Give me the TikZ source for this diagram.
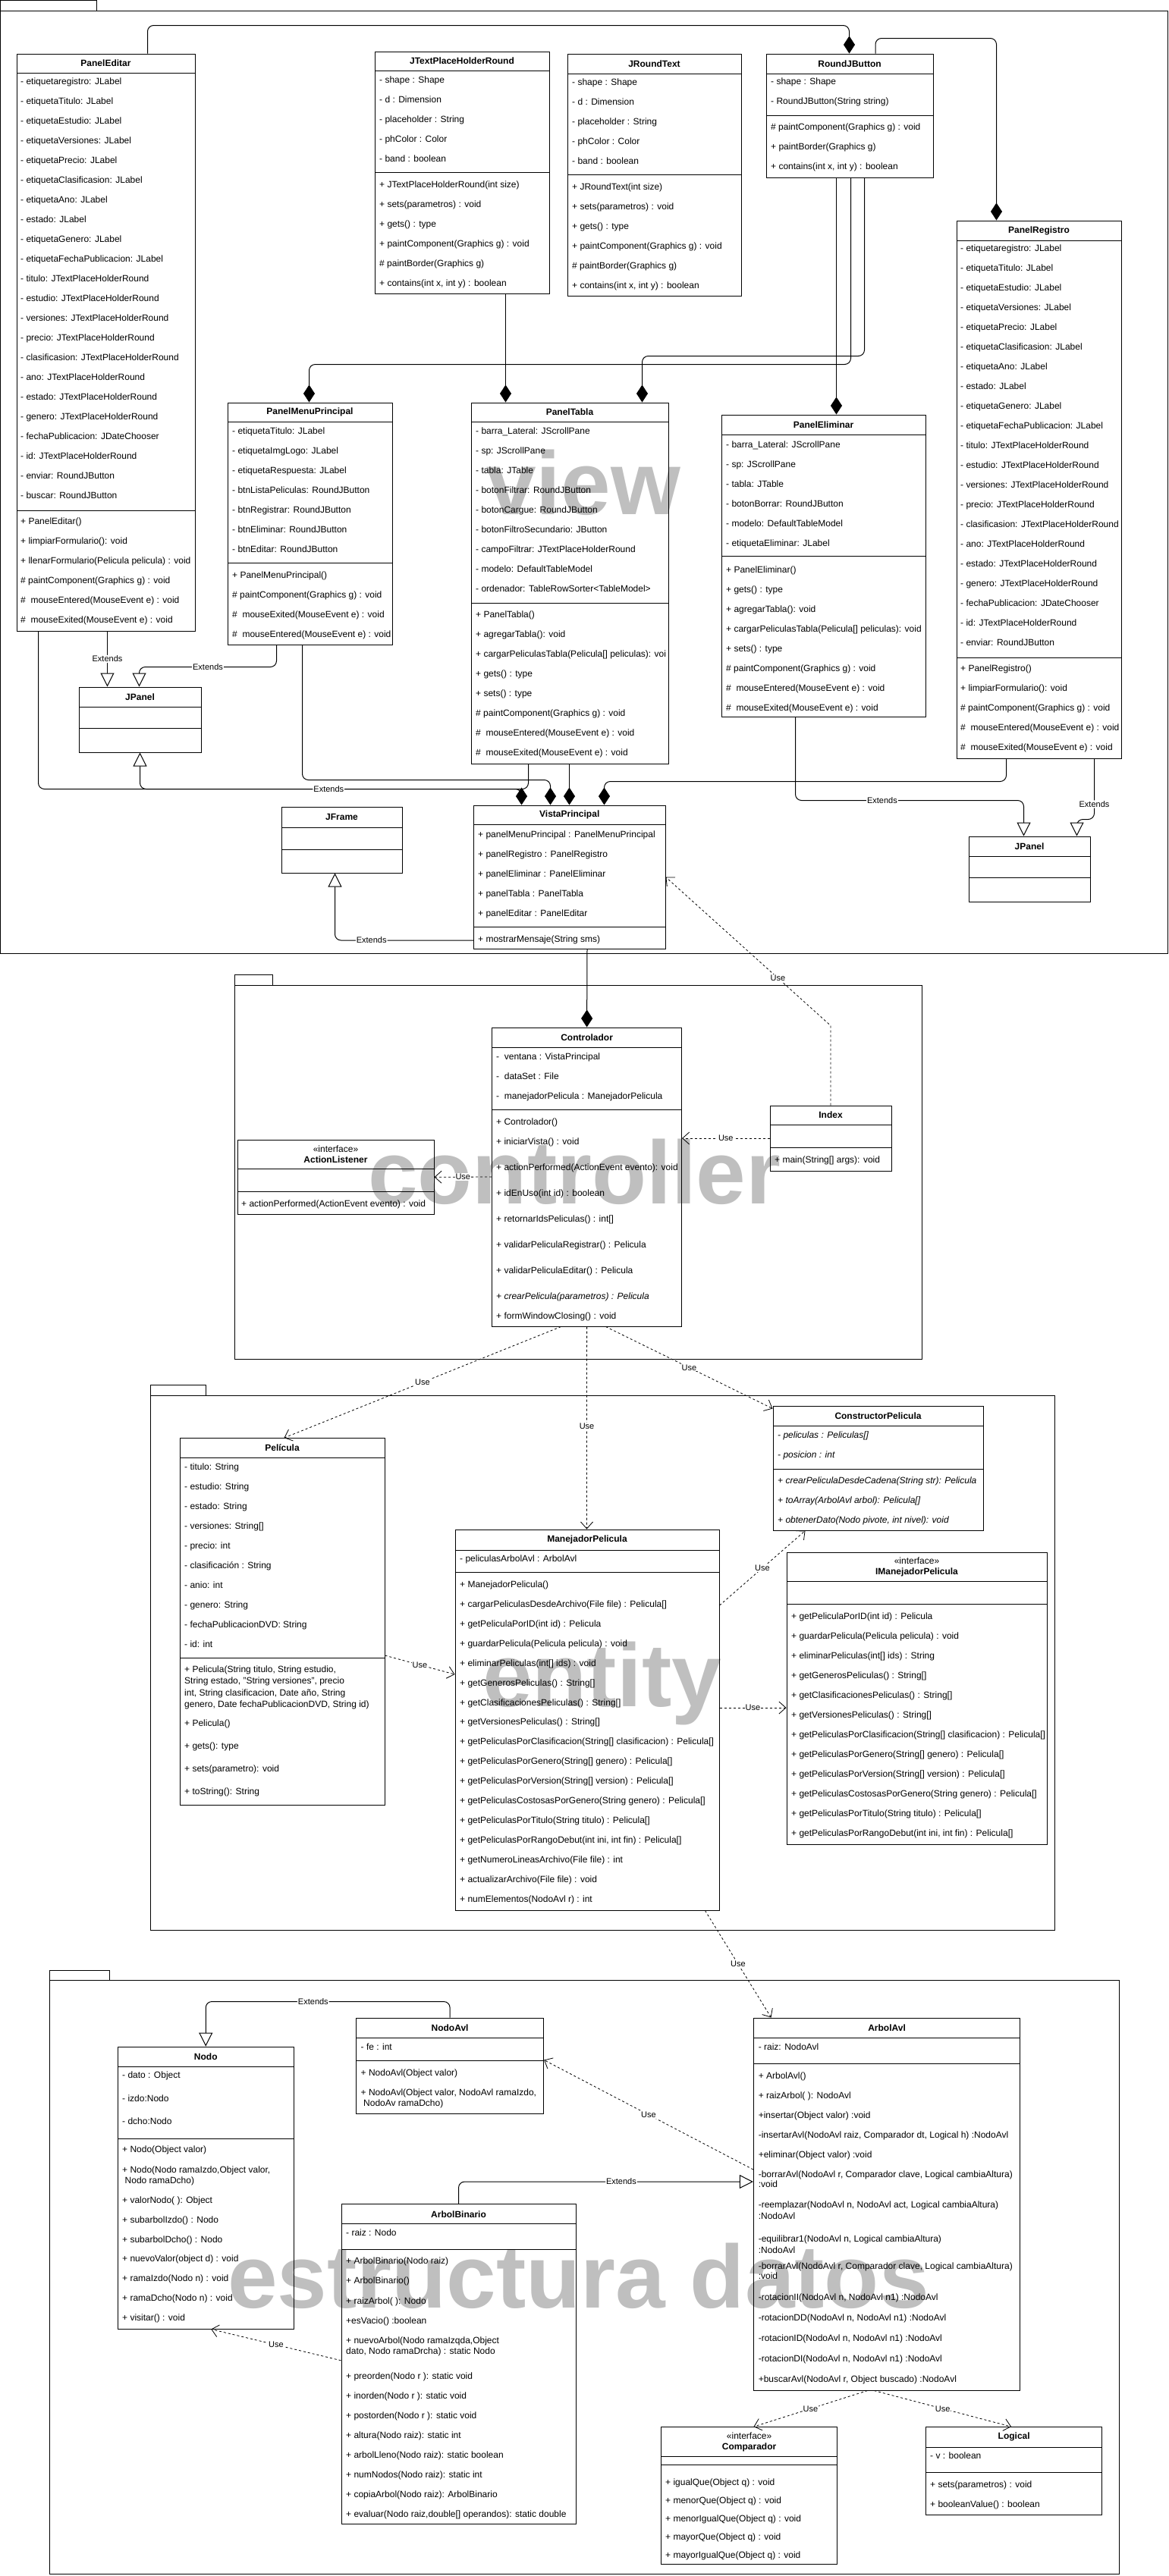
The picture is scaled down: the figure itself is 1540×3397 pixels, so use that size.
\documentclass[tikz,border=0pt]{standalone}
\usepackage{fontspec}
\setmainfont{Liberation Sans}
\usetikzlibrary{positioning,arrows.meta,calc,fit}
\definecolor{markgray}{RGB}{191,191,191}
\tikzset{
	every node/.style={font=\fontsize{12}{14}\selectfont, inner sep=0},
	box/.style={draw, line width=1pt},
	pkg/.style={draw, line width=1pt},
	ttl/.style={font=\fontsize{12}{14}\selectfont\bfseries, align=center},
	row/.style={anchor=mid west},
	wmark/.style={anchor=base west, text=markgray, font=\fontsize{118}{118}\selectfont\bfseries},
	wire/.style={line width=1pt, rounded corners=8pt},
	comp/.style={wire, -{Diamond[length=23pt,width=15pt]}},
	ext/.style={wire, -{Triangle[length=18pt,width=18pt,fill=white]}},
	use/.style={line width=0.8pt, dash pattern=on 3pt off 3pt, -{Straight Barb[length=9pt,width=16pt]}},
	lbl/.style={fill=white, inner sep=1pt, font=\fontsize{11}{13}\selectfont}
}
% class box: name, x1, y1, x2, y2, title rule, member rule, title
\newcommand\klass[8]{%
	\node[box, fit={(#2,#3) (#4,#5)}] (#1) {};
	\node[ttl] (#1-title) at ({(#2+#4)/2},{(#3+#6)/2}) {#8};
	\draw[line width=1pt] (#2,#6) -- (#4,#6) (#2,#7) -- (#4,#7);
}
% text rows: prefix, x, first y, step, list
\newcommand\rows[5]{%
	\foreach \t [count=\i from 0] in {#5}
		\node[row] (#1-\i) at (#2,{#3+\i*#4}) {\t};
}
\begin{document}
\begin{tikzpicture}[x=1pt, y=-1pt]
	\useasboundingbox (0,0) rectangle (1540,3397);
	% watermarks
	\node[wmark] (viewmark) at (641,678) {view};
	\node[wmark] (ctrlmark) at (485,1587) {controller};
	\node[wmark] (entmark) at (636,2250) {entity};
	\node[wmark] (datamark) at (300,3043) {estructura datos};
	
	% ---------- view ----------
	\node[pkg, fit={(0.5,0.5) (127,14)}] (viewtab) {};
	\node[pkg, fit={(0.5,14) (1539.5,1257)}] (viewpkg) {};
	
	\klass{editar}{22}{71}{257}{832}{96}{673}{PanelEditar}
	\rows{editar-a}{27}{109}{26}{{- etiquetaregistro: JLabel},{- etiquetaTitulo: JLabel},{- etiquetaEstudio: JLabel},{- etiquetaVersiones: JLabel},{- etiquetaPrecio: JLabel},{- etiquetaClasificasion: JLabel},{- etiquetaAno: JLabel},{- estado: JLabel},{- etiquetaGenero: JLabel},{- etiquetaFechaPublicacion: JLabel},{- titulo: JTextPlaceHolderRound},{- estudio: JTextPlaceHolderRound},{- versiones: JTextPlaceHolderRound},{- precio: JTextPlaceHolderRound},{- clasificasion: JTextPlaceHolderRound},{- ano: JTextPlaceHolderRound},{- estado: JTextPlaceHolderRound},{- genero: JTextPlaceHolderRound},{- fechaPublicacion: JDateChooser},{- id: JTextPlaceHolderRound},{- enviar: RoundJButton},{- buscar: RoundJButton}}
	\rows{editar-m}{27}{689}{26}{{+ PanelEditar()},{+ limpiarFormulario(): void},{+ llenarFormulario(Pelicula pelicula) : void},{\# paintComponent(Graphics g) : void},{\#~~mouseEntered(MouseEvent e) : void},{\#~~mouseExited(MouseEvent e) : void}}
	
	\klass{placeholder}{494}{68}{724}{387}{93}{227}{JTextPlaceHolderRound}
	\rows{placeholder-a}{500}{107}{26}{{- shape : Shape},{- d : Dimension},{- placeholder : String},{- phColor : Color},{- band : boolean}}
	\rows{placeholder-m}{500}{245}{26}{{+ JTextPlaceHolderRound(int size)},{+ sets(parametros) : void},{+ gets() : type},{+ paintComponent(Graphics g) : void},{\# paintBorder(Graphics g)},{+ contains(int x, int y) : boolean}}
	
	\klass{roundtext}{748}{71}{977}{390}{97}{230}{JRoundText}
	\rows{roundtext-a}{754}{110}{26}{{- shape : Shape},{- d : Dimension},{- placeholder : String},{- phColor : Color},{- band : boolean}}
	\rows{roundtext-m}{754}{248}{26}{{+ JRoundText(int size)},{+ sets(parametros) : void},{+ gets() : type},{+ paintComponent(Graphics g) : void},{\# paintBorder(Graphics g)},{+ contains(int x, int y) : boolean}}
	
	\klass{button}{1010}{71}{1230}{234}{97}{152}{RoundJButton}
	\rows{button-a}{1016}{109}{26}{{- shape : Shape},{- RoundJButton(String string)}}
	\rows{button-m}{1016}{169}{26}{{\# paintComponent(Graphics g) : void},{+ paintBorder(Graphics g)},{+ contains(int x, int y) : boolean}}
	
	\klass{registro}{1261}{291}{1478}{1000}{317}{867}{PanelRegistro}
	\rows{registro-a}{1266}{329}{26}{{- etiquetaregistro: JLabel},{- etiquetaTitulo: JLabel},{- etiquetaEstudio: JLabel},{- etiquetaVersiones: JLabel},{- etiquetaPrecio: JLabel},{- etiquetaClasificasion: JLabel},{- etiquetaAno: JLabel},{- estado: JLabel},{- etiquetaGenero: JLabel},{- etiquetaFechaPublicacion: JLabel},{- titulo: JTextPlaceHolderRound},{- estudio: JTextPlaceHolderRound},{- versiones: JTextPlaceHolderRound},{- precio: JTextPlaceHolderRound},{- clasificasion: JTextPlaceHolderRound},{- ano: JTextPlaceHolderRound},{- estado: JTextPlaceHolderRound},{- genero: JTextPlaceHolderRound},{- fechaPublicacion: JDateChooser},{- id: JTextPlaceHolderRound},{- enviar: RoundJButton}}
	\rows{registro-m}{1266}{883}{26}{{+ PanelRegistro()},{+ limpiarFormulario(): void},{\# paintComponent(Graphics g) : void},{\#~~mouseEntered(MouseEvent e) : void},{\#~~mouseExited(MouseEvent e) : void}}
	
	\klass{menu}{300}{531}{517}{850}{556}{742}{PanelMenuPrincipal}
	\rows{menu-a}{306}{569.5}{26}{{- etiquetaTitulo: JLabel},{- etiquetaImgLogo: JLabel},{- etiquetaRespuesta: JLabel},{- btnListaPeliculas: RoundJButton},{- btnRegistrar: RoundJButton},{- btnEliminar: RoundJButton},{- btnEditar: RoundJButton}}
	\rows{menu-m}{306}{759.5}{26}{{+ PanelMenuPrincipal()},{\# paintComponent(Graphics g) : void},{\#~~mouseExited(MouseEvent e) : void},{\#~~mouseEntered(MouseEvent e) : void}}
	
	\klass{tabla}{621}{531}{881}{1007}{556}{795}{PanelTabla}
	\rows{tabla-a}{627}{570}{26}{{- barra\_Lateral: JScrollPane},{- sp: JScrollPane},{- tabla: JTable},{- botonFiltrar: RoundJButton},{- botonCargue: RoundJButton},{- botonFiltroSecundario: JButton},{- campoFiltrar: JTextPlaceHolderRound},{- modelo: DefaultTableModel},{- ordenador: TableRowSorter<TableModel>}}
	\rows{tabla-m}{627}{812}{26}{{+ PanelTabla()},{+ agregarTabla(): void},{+ cargarPeliculasTabla(Pelicula[] peliculas): voi},{+ gets() : type},{+ sets() : type},{\# paintComponent(Graphics g) : void},{\#~~mouseEntered(MouseEvent e) : void},{\#~~mouseExited(MouseEvent e) : void}}
	
	\klass{eliminar}{951}{547}{1220}{945}{573}{733}{PanelEliminar}
	\rows{eliminar-a}{957}{588}{26}{{- barra\_Lateral: JScrollPane},{- sp: JScrollPane},{- tabla: JTable},{- botonBorrar: RoundJButton},{- modelo: DefaultTableModel},{- etiquetaEliminar: JLabel}}
	\rows{eliminar-m}{957}{753}{26}{{+ PanelEliminar()},{+ gets() : type},{+ agregarTabla(): void},{+ cargarPeliculasTabla(Pelicula[] peliculas): void},{+ sets() : type},{\# paintComponent(Graphics g) : void},{\#~~mouseEntered(MouseEvent e) : void},{\#~~mouseExited(MouseEvent e) : void}}
	
	\klass{jpanel}{104}{906}{265}{992}{932}{960}{JPanel}
	\klass{jpanelr}{1277}{1103}{1437}{1189}{1129}{1157}{JPanel}
	\klass{jframe}{371}{1064}{530}{1151}{1091}{1120}{JFrame}
	\klass{vista}{624.5}{1062}{877}{1251}{1087}{1222}{VistaPrincipal}
	\rows{vista-a}{630}{1102}{26}{{+ panelMenuPrincipal : PanelMenuPrincipal},{+ panelRegistro : PanelRegistro},{+ panelEliminar : PanelEliminar},{+ panelTabla : PanelTabla},{+ panelEditar : PanelEditar}}
	\node[row] (vista-m) at (630,1240) {+ mostrarMensaje(String sms)};
	
	% ---------- controller ----------
	\node[pkg, fit={(309,1285) (359,1299)}] (ctrltab) {};
	\node[pkg, fit={(309,1299) (1215,1792)}] (ctrlpkg) {};
	
	\klass{controlador}{648.6}{1355}{898.6}{1749}{1381}{1463.5}{Controlador}
	\rows{controlador-a}{654}{1395}{26}{{-~~ventana : VistaPrincipal},{-~~dataSet : File},{-~~manejadorPelicula : ManejadorPelicula}}
	\rows{controlador-m}{654}{1481}{26}{{+ Controlador()},{+ iniciarVista() : void}}
	\rows{controlador-n}{654}{1541}{34}{{+ actionPerformed(ActionEvent evento): void},{+ idEnUso(int id) : boolean},{+ retornarIdsPeliculas() : int[]},{+ validarPeliculaRegistrar() : Pelicula},{+ validarPeliculaEditar() : Pelicula},{\itshape + crearPelicula(parametros) : Pelicula}}
	\node[row] (controlador-z) at (654,1737) {+ formWindowClosing() : void};
	
	\klass{index}{1015}{1458}{1175}{1544}{1483}{1513.5}{Index}
	\node[row] (index-m) at (1021,1531) {+ main(String[] args): void};
	
	\klass{listener}{313}{1503.5}{572}{1601}{1541}{1571}{{\mdseries «interface»}\\ActionListener}
	\node[row] (listener-m) at (318,1588.5) {+ actionPerformed(ActionEvent evento) : void};
	
	% ---------- entity ----------
	\node[pkg, fit={(198,1826) (271,1840)}] (enttab) {};
	\node[pkg, fit={(198,1840) (1390,2545)}] (entpkg) {};
	
	\klass{pelicula}{237}{1896.6}{507}{2380.5}{1922.5}{2186}{Película}
	\rows{pelicula-a}{243}{1936}{26}{{- titulo: String},{- estudio: String},{- estado: String},{- versiones: String[]},{- precio: int},{- clasificación : String},{- anio: int},{- genero: String},{- fechaPublicacionDVD: String},{- id: int}}
	\rows{pelicula-c}{243}{2203}{15.3}{{+ Pelicula(String titulo, String estudio,},{String estado, "String versiones", precio},{int, String clasificacion, Date año, String},{genero, Date fechaPublicacionDVD, String id)}}
	\rows{pelicula-m}{243}{2274}{30}{{+ Pelicula()},{+ gets(): type},{+ sets(parametro): void},{+ toString(): String}}
	
	\klass{manejador}{600}{2017}{948}{2519}{2044}{2073}{ManejadorPelicula}
	\node[row] (manejador-a) at (606,2057) {- peliculasArbolAvl : ArbolAvl};
	\rows{manejador-m}{606}{2091}{25.9}{{+ ManejadorPelicula()},{+ cargarPeliculasDesdeArchivo(File file) : Pelicula[]},{+ getPeliculaPorID(int id) : Pelicula},{+ guardarPelicula(Pelicula pelicula) : void},{+ eliminarPeliculas(int[] ids) : void},{+ getGenerosPeliculas() : String[]},{+ getClasificacionesPeliculas() : String[]},{+ getVersionesPeliculas() : String[]},{+ getPeliculasPorClasificacion(String[] clasificacion) : Pelicula[]},{+ getPeliculasPorGenero(String[] genero) : Pelicula[]},{+ getPeliculasPorVersion(String[] version) : Pelicula[]},{+ getPeliculasCostosasPorGenero(String genero) : Pelicula[]},{+ getPeliculasPorTitulo(String titulo) : Pelicula[]},{+ getPeliculasPorRangoDebut(int ini, int fin) : Pelicula[]},{+ getNumeroLineasArchivo(File file) : int},{+ actualizarArchivo(File file) : void},{+ numElementos(NodoAvl r) : int}}
	
	\klass{constructor}{1019}{1854}{1296}{2018}{1880.5}{1937}{ConstructorPelicula}
	\rows{constructor-a}{1025}{1894}{25.5}{{\itshape - peliculas : Peliculas[]},{\itshape - posicion : int}}
	\rows{constructor-m}{1025}{1954}{26}{{\itshape + crearPeliculaDesdeCadena(String str): Pelicula},{\itshape + toArray(ArbolAvl arbol): Pelicula[]},{\itshape + obtenerDato(Nodo pivote, int nivel): void}}
	
	\klass{imanejador}{1037}{2047.7}{1380}{2432}{2085}{2115.5}{{\mdseries «interface»}\\IManejadorPelicula}
	\rows{imanejador-m}{1043}{2133}{26}{{+ getPeliculaPorID(int id) : Pelicula},{+ guardarPelicula(Pelicula pelicula) : void},{+ eliminarPeliculas(int[] ids) : String},{+ getGenerosPeliculas() : String[]},{+ getClasificacionesPeliculas() : String[]},{+ getVersionesPeliculas() : String[]},{+ getPeliculasPorClasificacion(String[] clasificacion) : Pelicula[]},{+ getPeliculasPorGenero(String[] genero) : Pelicula[]},{+ getPeliculasPorVersion(String[] version) : Pelicula[]},{+ getPeliculasCostosasPorGenero(String genero) : Pelicula[]},{+ getPeliculasPorTitulo(String titulo) : Pelicula[]},{+ getPeliculasPorRangoDebut(int ini, int fin) : Pelicula[]}}
	
	% ---------- estructura datos ----------
	\node[pkg, fit={(65,2598) (144,2611)}] (esttab) {};
	\node[pkg, fit={(65,2611) (1475,3394)}] (estpkg) {};
	
	\klass{nodo}{155.5}{2699}{387}{3071}{2725}{2820}{Nodo}
	\rows{nodo-a}{161}{2738}{30.5}{{- dato : Object},{- izdo:Nodo},{- dcho:Nodo}}
	\rows{nodo-m}{161}{2836}{26.5}{{+ Nodo(Object valor)},{+ Nodo(Nodo ramaIzdo,Object valor,}}
	\node[row] (nodo-w) at (161,2877) {\hspace{3.5pt}Nodo ramaDcho)};
	\rows{nodo-n}{161}{2902.6}{25.9}{{+ valorNodo( ): Object},{+ subarbolIzdo() : Nodo},{+ subarbolDcho() : Nodo},{+ nuevoValor(object d) : void},{+ ramaIzdo(Nodo n) : void},{+ ramaDcho(Nodo n) : void},{+ visitar() : void}}
	
	\klass{nodoavl}{469.6}{2661}{716.6}{2787}{2687}{2717.6}{NodoAvl}
	\node[row] (nodoavl-a) at (475.5,2701) {- fe : int};
	\rows{nodoavl-m}{475.5}{2734.8}{26.2}{{+ NodoAvl(Object valor)},{+ NodoAvl(Object valor, NodoAvl ramaIzdo,}}
	\node[row] (nodoavl-w) at (475.5,2774.4) {\hspace{3.5pt}NodoAv ramaDcho)};
	
	\klass{arbolbin}{450}{2906.7}{759}{3328.8}{2932.8}{2966.7}{ArbolBinario}
	\node[row] (arbolbin-a) at (456,2945.8) {- raiz : Nodo};
	\rows{arbolbin-m}{456}{2983}{26.2}{{+ ArbolBinario(Nodo raiz)},{+ ArbolBinario()},{+ raizArbol( ): Nodo},{+esVacio() :boolean}}
	\rows{arbolbin-w}{456}{3088}{13.6}{{+ nuevoArbol(Nodo ramaIzqda,Object},{dato, Nodo ramaDrcha) : static Nodo}}
	\rows{arbolbin-n}{456}{3134.5}{26.04}{{+ preorden(Nodo r ): static void},{+ inorden(Nodo r ): static void},{+ postorden(Nodo r ): static void},{+ altura(Nodo raiz): static int},{+ arbolLleno(Nodo raiz): static boolean},{+ numNodos(Nodo raiz): static int},{+ copiaArbol(Nodo raiz): ArbolBinario},{+ evaluar(Nodo raiz,double[] operandos): static double}}
	
	\klass{arbolavl}{993.4}{2661}{1344.7}{3152}{2687}{2721.7}{ArbolAvl}
	\node[row] (arbolavl-a) at (999.6,2701) {- raiz: NodoAvl};
	\rows{arbolavl-m}{999.6}{2738.4}{26.05}{{+ ArbolAvl()},{+ raizArbol( ): NodoAvl},{+insertar(Object valor) :void},{-insertarAvl(NodoAvl raiz, Comparador dt, Logical h) :NodoAvl},{+eliminar(Object valor) :void}}
	\rows{arbolavl-b}{999.6}{2868.7}{13.5}{{-borrarAvl(NodoAvl r, Comparador clave, Logical cambiaAltura)},{:void}}
	\rows{arbolavl-r}{999.6}{2909.3}{14.5}{{-reemplazar(NodoAvl n, NodoAvl act, Logical cambiaAltura)},{:NodoAvl}}
	\rows{arbolavl-e}{999.6}{2954}{14.5}{{-equilibrar1(NodoAvl n, Logical cambiaAltura)},{:NodoAvl}}
	\rows{arbolavl-c}{999.6}{2989.6}{13.5}{{-borrarAvl(NodoAvl r, Comparador clave, Logical cambiaAltura)},{:void}}
	\rows{arbolavl-n}{999.6}{3030.8}{26.95}{{-rotacionII(NodoAvl n, NodoAvl n1) :NodoAvl},{-rotacionDD(NodoAvl n, NodoAvl n1) :NodoAvl},{-rotacionID(NodoAvl n, NodoAvl n1) :NodoAvl},{-rotacionDI(NodoAvl n, NodoAvl n1) :NodoAvl},{+buscarAvl(NodoAvl r, Object buscado) :NodoAvl}}
	
	\klass{comparador}{871.5}{3200.6}{1103.7}{3381}{3239.7}{3250.7}{{\mdseries «interface»}\\Comparador}
	\rows{comparador-m}{877}{3274.6}{24}{{+ igualQue(Object q) : void},{+ menorQue(Object q) : void},{+ menorIgualQue(Object q) : void},{+ mayorQue(Object q) : void},{+ mayorIgualQue(Object q) : void}}
	
	\klass{logical}{1220.6}{3200.6}{1452.8}{3316.3}{3227}{3260.6}{Logical}
	\node[row] (logical-a) at (1226,3239.7) {- v : boolean};
	\rows{logical-m}{1226}{3277.8}{26}{{+ sets(parametros) : void},{+ booleanValue() : boolean}}
	
	% ---------- connectors: view ----------
	\draw[comp] ([xshift=173]editar.north west) -- ++(0,-37) -| ([xshift=110]button.north west);
	\draw[comp] ([xshift=144.5]button.north west) -- ++(0,-20) -| ([xshift=53]registro.north west);
	\draw[comp] ([xshift=173]placeholder.south west) -- ([xshift=46]tabla.north west);
	\draw[comp] ([xshift=93]button.south west) -- ([xshift=152]eliminar.north west);
	\draw[comp] ([xshift=112]button.south west) -- ++(0,246) -| ([xshift=108]menu.north west);
	\draw[comp] ([xshift=130]button.south west) -- ++(0,235) -| ([xshift=226]tabla.north west);
	\draw[ext] ([xshift=120]editar.south west) -- node[lbl]{Extends} ([xshift=38]jpanel.north west);
	\draw[ext] ([xshift=65]menu.south west) -- ++(0,29) -| node[lbl, pos=0.25]{Extends} ([xshift=80]jpanel.north west);
	\draw[comp] ([xshift=29]editar.south west) -- ++(0,208) -| ([xshift=63.5]vista.north west);
	\draw[ext] ([xshift=76]tabla.south west) -- ++(0,33) -| node[lbl, pos=0.257]{Extends} ([xshift=81]jpanel.south west);
	\draw[comp] ([xshift=99]menu.south west) -- ++(0,178) -| ([xshift=101.5]vista.north west);
	\draw[comp] ([xshift=130]tabla.south west) -- ([xshift=126.5]vista.north west);
	\draw[comp] ([xshift=66]registro.south west) -- ++(0,30) -| ([xshift=172.5]vista.north west);
	\draw[ext] ([xshift=98]eliminar.south west) -- ++(0,110) -| node[lbl, pos=0.19]{Extends} ([xshift=73]jpanelr.north west);
	\draw[ext] ([xshift=182]registro.south west) -- node[lbl, pos=0.75]{Extends} ++(0,80) -| ([xshift=143]jpanelr.north west);
	\draw[ext] ([yshift=-83.5]vista.west) -| node[lbl, pos=0.368]{Extends} ([xshift=71]jframe.south west);
	\draw[comp] ([xshift=150]vista.south west) -- (controlador.north);
	
	% ---------- connectors: controller ----------
	\draw[use] (index.north) -- ++(0,-105) -- node[lbl, pos=0.32]{Use} (vista.east);
	\draw[use] (index.west) -- node[lbl]{Use} (controlador.east |- index.west);
	\draw[use] (controlador.west) -- node[lbl]{Use} (listener.east);
	
	% ---------- connectors: entity ----------
	\draw[use] ([xshift=91.4]controlador.south west) -- node[lbl]{Use} ([xshift=138]pelicula.north west);
	\draw[use] (controlador.south) -- node[lbl, pos=0.49]{Use} ([xshift=174]manejador.north west);
	\draw[use] ([xshift=150.4]controlador.south west) -- node[lbl]{Use} ([yshift=-4]constructor.north west);
	\draw[use] ([yshift=-44.5]pelicula.east) -- node[lbl]{Use} ([yshift=60]manejador.west);
	\coordinate (mright) at ([yshift=16]manejador.east);
	\draw[use] (mright) -- node[lbl]{Use} (imanejador.west |- mright);
	\draw[use] ([yshift=151]manejador.east) -- node[lbl]{Use} ([xshift=43]constructor.south west);
	\draw[use] ([xshift=330]manejador.south west) -- node[lbl]{Use} ([xshift=23.6]arbolavl.north west);
	
	% ---------- connectors: estructura datos ----------
	\draw[ext] (nodoavl.north) -- ++(0,-21) -| node[lbl, pos=0.28]{Extends} (nodo.north);
	\draw[use] ([yshift=5]arbolbin.west) -- node[lbl]{Use} ([xshift=7]nodo.south);
	\draw[ext] (arbolbin.north) |- node[lbl, pos=0.776]{Extends} ([yshift=29.5]arbolavl.west);
	\draw[use] ([yshift=45.5]arbolavl.west) -- node[lbl]{Use} ([yshift=7.5]nodoavl.east);
	\draw[use] ([xshift=150.6]arbolavl.south west) -- node[lbl]{Use} ([xshift=122.5]comparador.north west);
	\draw[use] ([xshift=159.4]arbolavl.south west) -- node[lbl]{Use} ([xshift=113]logical.north west);
\end{tikzpicture}
\end{document}
